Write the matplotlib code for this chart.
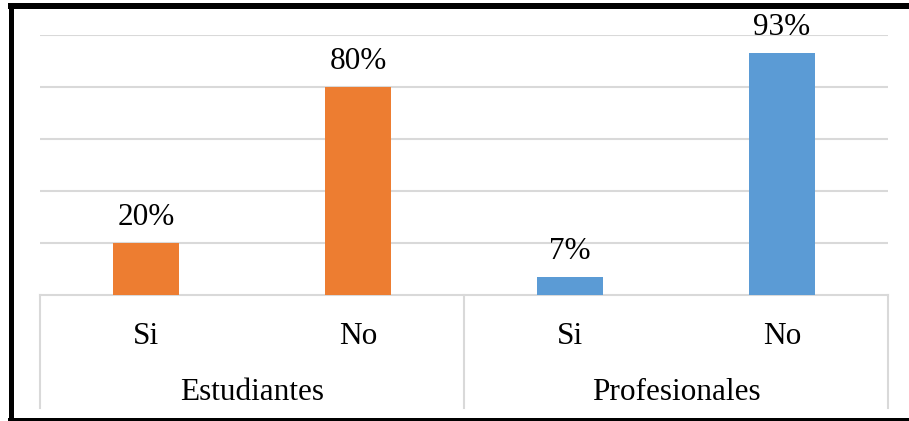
import matplotlib
matplotlib.use("Agg")
import matplotlib.pyplot as plt
from matplotlib.lines import Line2D

groups = ["Estudiantes", "Profesionales"]
answers = ["Si", "No"]
values = [0.20, 0.80, 0.07, 0.93]
colors = ["#ED7D31", "#ED7D31", "#5B9BD5", "#5B9BD5"]

plt.rcParams['font.family'] = ['Liberation Serif', 'DejaVu Serif']
fs = 22.5

W, H = 909, 421
fig = plt.figure(figsize=(W / 100, H / 100), dpi=100)
# plot area in pixels: x 40..888, baseline at y=295, 100% at y=35
ax = fig.add_axes([40 / W, 1 - 295 / H, (888 - 40) / W, (295 - 35) / H])

x = list(range(len(values)))
ax.bar(x, values, width=0.316, color=colors, zorder=3)
ax.set_xlim(-0.5, len(values) - 0.5)
ax.set_ylim(0, 1.0)

for yv in [0.2, 0.4, 0.6, 0.8, 1.0]:
    ax.axhline(yv, color="#d9d9d9", lw=1.5, zorder=1)

for s in ["top", "right", "left"]:
    ax.spines[s].set_visible(False)
ax.spines["bottom"].set_color("#d9d9d9")
ax.spines["bottom"].set_linewidth(1.5)
ax.set_xticks([])
ax.set_yticks([])

# data labels
for xi, v in zip(x, values):
    ax.annotate(f"{round(v * 100)}%", (xi, v), xytext=(0, 13), textcoords="offset points",
                ha="center", va="baseline", fontsize=fs)

# two-level category axis
tr = ax.get_xaxis_transform()
for xs in [-0.5, 1.5, 3.5]:
    ax.plot([xs, xs], [0, -0.435], transform=tr, color="#d9d9d9", lw=1.5, clip_on=False)
for i, xi in enumerate(x):
    ax.text(xi, -0.188, answers[i % 2], transform=tr, ha="center", va="baseline", fontsize=fs)
for g, grp in enumerate(groups):
    ax.text(2 * g + 0.5, -0.404, grp, transform=tr, ha="center", va="baseline", fontsize=fs)

# black frame (cut on the right)
fig.add_artist(Line2D([8 / W, 1], [1 - 6 / H] * 2, color="black", lw=6 * 0.72, solid_capstyle="butt"))
fig.add_artist(Line2D([10.5 / W] * 2, [1 - 3 / H, 0], color="black", lw=5 * 0.72, solid_capstyle="butt"))
fig.add_artist(Line2D([8 / W, 1], [1 - 420 / H] * 2, color="black", lw=4 * 0.72, solid_capstyle="butt"))

fig.savefig("out.png", dpi=100)
